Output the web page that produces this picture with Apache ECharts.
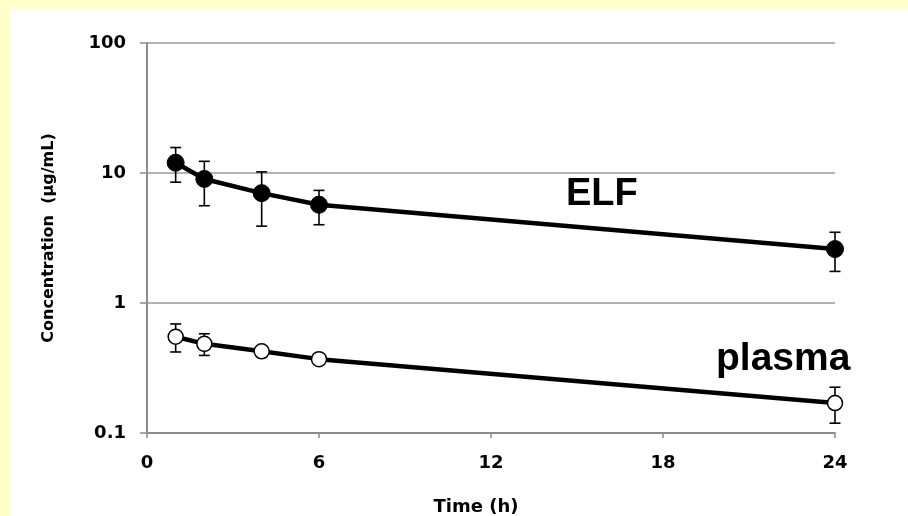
<!DOCTYPE html>
<html>
<head>
<meta charset="utf-8">
<script src="https://cdn.jsdelivr.net/npm/echarts@6/dist/echarts.min.js"></script>
<style>
html,body{margin:0;padding:0;background:#FFFFCC;width:908px;height:516px;overflow:hidden;}
#c{position:absolute;left:10px;top:9px;width:898px;height:507px;background:#ffffff;}
</style>
</head>
<body>
<div id="c"></div>
<script>
// Data
const timesH = [1, 2, 4, 6, 24];
const elfMean  = [12, 9, 7, 5.7, 2.6];
const elfHigh  = [15.7, 12.3, 10.2, 7.35, 3.5];
const elfLow   = [8.5, 5.6, 3.9, 4.0, 1.75];
const plasmaMean = [0.55, 0.485, 0.425, 0.37, 0.17];
const plasmaHigh = [0.69, 0.58, 0.45, 0.39, 0.225];
const plasmaLow  = [0.42, 0.395, 0.40, 0.35, 0.119];
const xTicks = [0, 6, 12, 18, 24];
const yTicks = [0.1, 1, 10, 100];
const seriesLabels = ['ELF', 'plasma'];

const chart = echarts.init(document.getElementById('c'), null, {renderer: 'canvas'});

function pairs(xs, ys) { return xs.map((x, i) => [x, ys[i]]); }
function errData(xs, lo, hi) { return xs.map((x, i) => [x, lo[i], hi[i]]); }

function errRender(params, api) {
  const x = api.value(0);
  const lo = api.coord([x, api.value(1)]);
  const hi = api.coord([x, api.value(2)]);
  const w = 5.5;
  const st = {stroke: '#000', lineWidth: 1.6};
  return {
    type: 'group',
    children: [
      {type: 'line', shape: {x1: lo[0], y1: lo[1], x2: hi[0], y2: hi[1]}, style: st},
      {type: 'line', shape: {x1: hi[0] - w, y1: hi[1], x2: hi[0] + w, y2: hi[1]}, style: st},
      {type: 'line', shape: {x1: lo[0] - w, y1: lo[1], x2: lo[0] + w, y2: lo[1]}, style: st}
    ]
  };
}

const tickFont = {fontFamily: 'DejaVu Sans', fontWeight: 'bold', fontSize: 18, color: '#000'};

chart.setOption({
  animation: false,
  backgroundColor: '#ffffff',
  grid: {left: 137, top: 34, right: 73, bottom: 83, containLabel: false, outerBoundsMode: 'none'},
  xAxis: {
    type: 'value', min: 0, max: 24, interval: 6,
    name: 'Time (h)', nameLocation: 'middle', nameGap: 65,
    nameTextStyle: {fontFamily: 'DejaVu Sans', fontWeight: 'bold', fontSize: 18, color: '#000', padding: [0, 30, 0, 0]},
    axisLine: {show: true, onZero: false, lineStyle: {color: '#8c8c8c', width: 2}},
    axisTick: {show: true, length: 5, inside: false, lineStyle: {color: '#8c8c8c', width: 1.5}},
    axisLabel: Object.assign({margin: 21, formatter: v => xTicks.includes(v) ? String(v) : ''}, tickFont),
    splitLine: {show: false}
  },
  yAxis: {
    type: 'log', logBase: 10, min: yTicks[0], max: yTicks[yTicks.length - 1],
    name: 'Concentration  (µg/mL)', nameLocation: 'middle', nameGap: 90, nameRotate: 90,
    nameTextStyle: {fontFamily: 'DejaVu Sans', fontWeight: 'bold', fontSize: 16, color: '#000'},
    axisLine: {show: true, lineStyle: {color: '#8c8c8c', width: 2}},
    axisTick: {show: true, length: 7, inside: false, lineStyle: {color: '#8c8c8c', width: 1.5}},
    axisLabel: Object.assign({margin: 21, formatter: v => String(+Number(v).toPrecision(3))}, tickFont),
    splitLine: {show: true, lineStyle: {color: '#9a9a9a', width: 1.5}}
  },
  series: [
    {type: 'custom', name: 'ELF err', renderItem: errRender, data: errData(timesH, elfLow, elfHigh), z: 1, encode: {x: 0, y: [1, 2]}},
    {type: 'custom', name: 'plasma err', renderItem: errRender, data: errData(timesH, plasmaLow, plasmaHigh), z: 1, encode: {x: 0, y: [1, 2]}},
    {
      type: 'line', name: seriesLabels[0], data: pairs(timesH, elfMean), z: 3,
      lineStyle: {color: '#000', width: 4.5},
      symbol: 'circle', symbolSize: 17,
      itemStyle: {color: '#000', borderColor: '#000', borderWidth: 1}
    },
    {
      type: 'line', name: seriesLabels[1], data: pairs(timesH, plasmaMean), z: 3,
      lineStyle: {color: '#000', width: 4.5},
      symbol: 'circle', symbolSize: 15,
      itemStyle: {color: '#fff', borderColor: '#000', borderWidth: 1.5}
    }
  ],
  graphic: [
    {type: 'text', left: 556, top: 167, z: 10,
     style: {text: seriesLabels[0], font: 'bold 38px "Liberation Sans", Arial, sans-serif', fill: '#000'}},
    {type: 'text', left: 706, top: 331, z: 10,
     style: {text: seriesLabels[1], font: 'bold 39px "Liberation Sans", Arial, sans-serif', fill: '#000'}}
  ]
});
</script>
</body>
</html>
